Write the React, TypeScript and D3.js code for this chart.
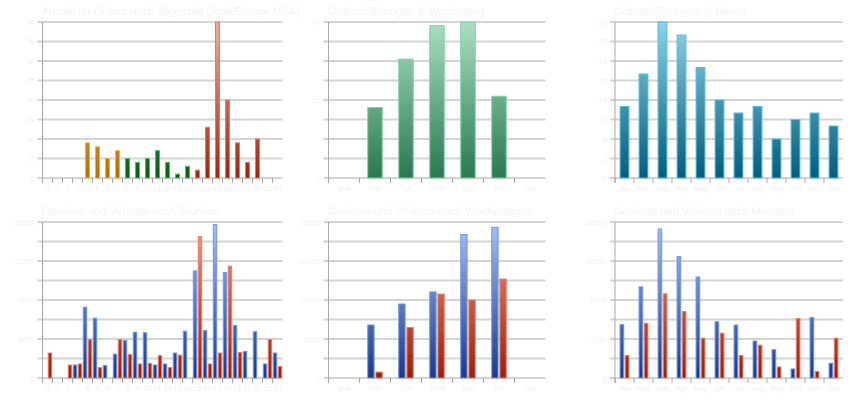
import React, { useEffect, useRef } from "react";
import * as d3 from "d3";

// Kategorien
const hours = ["0", "1", "2", "3", "4", "5", "6", "7", "8", "9", "10", "11", "12", "13", "14", "15", "16", "17", "18", "19", "20", "21", "22", "23"];
const weekdays = ["Sun", "Mon", "Tue", "Wed", "Thu", "Fri", "Sat"];
const months = ["Jan", "Feb", "Mar", "Apr", "May", "Jun", "Jul", "Aug", "Sep", "Oct", "Nov", "Dec"];

// Handelssitzung je Stunde
const hourRegion = [
  "asia", "asia", "asia", "asia", "asia", "asia", "asia", "asia",
  "europe", "europe", "europe", "europe", "europe", "europe", "europe",
  "usa", "usa", "usa", "usa", "usa", "usa", "usa", "usa", "usa",
];

// Orders
const ordersByHour = [0, 0, 0, 0, 9, 8, 5, 7, 5, 4, 5, 7, 4, 1, 3, 2, 13, 40, 20, 9, 4, 10, 0, 0];
const ordersByWeekday = [0, 19, 32, 41, 42, 22, 0];
const ordersByMonth = [11, 16, 24, 22, 17, 12, 10, 11, 6, 9, 10, 8];

// Gewinne / Verluste
const profitByHour = [0, 0, 0, 1250, 6800, 5750, 1200, 2300, 3600, 4400, 4350, 1250, 1350, 2400, 4500, 10300, 4550, 14750, 10150, 5050, 2550, 4450, 1350, 2400];
const lossByHour = [2400, 0, 1250, 1350, 3700, 1000, 0, 3700, 2250, 1350, 1400, 2150, 1000, 2200, 0, 13600, 1350, 2400, 10750, 2450, 0, 0, 3700, 1100];
const profitByWeekday = [0, 9850, 13750, 16000, 26650, 28000, 0];
const lossByWeekday = [0, 1100, 9400, 15600, 14500, 18400, 0];
const profitByMonth = [6500, 11100, 18150, 14800, 12300, 6850, 6450, 4500, 3450, 1100, 7350, 1800];
const lossByMonth = [2750, 6650, 10250, 8100, 4850, 5450, 2750, 4000, 1350, 7250, 800, 4850];

// Achsenbeschriftungen
const hourTicks = [0, 5, 10, 15, 20, 25, 30, 35, 40];
const weekdayTicks = [0, 21, 42];
const monthTicks = [0, 3, 6, 9, 12, 15, 18, 21, 24];
const profitHourTicks = [0, 3750, 7500, 11250, 15000];
const profitWeekdayTicks = [0, 7250, 14500, 21750, 29000];
const profitMonthTicks = [0, 4750, 9500, 14250, 19000];

const palette: Record<string, { top: string; bottom: string; stroke: string }> = {
  asia: { top: "#ffd67a", bottom: "#b86c06", stroke: "#f8b034" },
  europe: { top: "#5cc46c", bottom: "#0a5e12", stroke: "#52bc60" },
  usa: { top: "#f6ac9c", bottom: "#9c2610", stroke: "#ec7462" },
  mint: { top: "#aadfc2", bottom: "#2a7850", stroke: "#80d2a6" },
  teal: { top: "#8ed2e6", bottom: "#045c7c", stroke: "#52c0e0" },
  blue: { top: "#a9c1f2", bottom: "#1c3886", stroke: "#6e96e6" },
  red: { top: "#f29a88", bottom: "#96200e", stroke: "#ee7c68" },
};

interface Panel {
  id: string;
  title: string;
  categories: string[];
  series: { values: number[]; color: (i: number) => string }[];
  yMax: number;
  ticks: number[];
  rect: [number, number, number, number]; // x0, y0, x1, y1
  groupWidth: number;
}

const top = [22, 178];
const bottom = [222, 378];

const panels: Panel[] = [
  {
    id: "p1",
    title: "Anzahl an Orders nach Tageszeit (Asia,Europe,USA)",
    categories: hours,
    series: [{ values: ordersByHour, color: (i) => hourRegion[i] }],
    yMax: 40,
    ticks: hourTicks,
    rect: [42.5, top[0], 282.5, top[1]],
    groupWidth: 0.5,
  },
  {
    id: "p2",
    title: "Ordereröffnungen je Wochentag",
    categories: weekdays,
    series: [{ values: ordersByWeekday, color: () => "mint" }],
    yMax: 42,
    ticks: weekdayTicks,
    rect: [328.5, top[0], 545.5, top[1]],
    groupWidth: 0.5,
  },
  {
    id: "p3",
    title: "Ordereröffnungen je Monat",
    categories: months,
    series: [{ values: ordersByMonth, color: () => "teal" }],
    yMax: 24,
    ticks: monthTicks,
    rect: [615, top[0], 843, top[1]],
    groupWidth: 0.52,
  },
  {
    id: "p4",
    title: "Gewinne und Verluste nach Stunden",
    categories: hours,
    series: [
      { values: profitByHour, color: () => "blue" },
      { values: lossByHour, color: () => "red" },
    ],
    yMax: 15000,
    ticks: profitHourTicks,
    rect: [42.5, bottom[0], 282.5, bottom[1]],
    groupWidth: 0.94,
  },
  {
    id: "p5",
    title: "Gewinne und Verluste nach Wochentagen",
    categories: weekdays,
    series: [
      { values: profitByWeekday, color: () => "blue" },
      { values: lossByWeekday, color: () => "red" },
    ],
    yMax: 29000,
    ticks: profitWeekdayTicks,
    rect: [328.5, bottom[0], 545.5, bottom[1]],
    groupWidth: 0.5,
  },
  {
    id: "p6",
    title: "Gewinne und Verluste nach Monaten",
    categories: months,
    series: [
      { values: profitByMonth, color: () => "blue" },
      { values: lossByMonth, color: () => "red" },
    ],
    yMax: 19000,
    ticks: profitMonthTicks,
    rect: [615, bottom[0], 843, bottom[1]],
    groupWidth: 0.52,
  },
];

const font = "'Liberation Sans', Arial, sans-serif";
const textColor = "#f1f1f1";

export default function App() {
  const svgRef = useRef<SVGSVGElement>(null);

  useEffect(() => {
    if (!svgRef.current) return;
    const svg = d3.select(svgRef.current);
    svg.selectAll("*").remove();
    const defs = svg.append("defs");

    panels.forEach((p) => {
      const [x0, y0, x1, y1] = p.rect;
      const g = svg.append("g");

      const x = d3.scaleBand<string>().domain(p.categories).range([x0, x1]);
      const y = d3.scaleLinear().domain([0, p.yMax]).range([y1, y0]);
      const inner = d3
        .scaleBand<number>()
        .domain(d3.range(p.series.length))
        .range([0, x.bandwidth() * p.groupWidth])
        .paddingInner(p.series.length > 1 ? 0.1 : 0);
      const offset = (x.bandwidth() * (1 - p.groupWidth)) / 2;

      // gradients in plot coordinates, so short bars stay dark
      Object.keys(palette).forEach((key) => {
        const grad = defs
          .append("linearGradient")
          .attr("id", `${p.id}-${key}`)
          .attr("gradientUnits", "userSpaceOnUse")
          .attr("x1", 0)
          .attr("x2", 0)
          .attr("y1", y0)
          .attr("y2", y1);
        grad.append("stop").attr("offset", "0%").attr("stop-color", palette[key].top);
        grad.append("stop").attr("offset", "100%").attr("stop-color", palette[key].bottom);
      });

      // grid: 8 intervals, alternating dark thin / light thick
      const grid = d3.range(9).map((i) => (p.yMax * i) / 8);
      g.selectAll(".grid")
        .data(grid)
        .enter()
        .append("line")
        .attr("x1", x0 - 5)
        .attr("x2", x1)
        .attr("y1", (d) => y(d))
        .attr("y2", (d) => y(d))
        .attr("stroke", (d, i) => (i % 2 === 0 ? "#a8a8a8" : "#d4d4d4"))
        .attr("stroke-width", (d, i) => (i % 2 === 0 ? 1 : 2));

      // y axis + category ticks
      g.append("line")
        .attr("x1", x0)
        .attr("x2", x0)
        .attr("y1", y0)
        .attr("y2", y1 + 5)
        .attr("stroke", "#a8a8a8");
      g.selectAll(".xtick")
        .data(p.categories)
        .enter()
        .append("line")
        .attr("x1", (d) => x(d)!)
        .attr("x2", (d) => x(d)!)
        .attr("y1", y1)
        .attr("y2", y1 + 5)
        .attr("stroke", "#a8a8a8");

      // bars
      p.series.forEach((s, si) => {
        g.selectAll(`.bar-${si}`)
          .data(s.values.map((v, i) => ({ v, i })).filter((d) => d.v > 0))
          .enter()
          .append("rect")
          .attr("x", (d) => x(p.categories[d.i])! + offset + inner(si)! + 0.5)
          .attr("y", (d) => y(d.v))
          .attr("width", Math.max(inner.bandwidth() - 1, 1))
          .attr("height", (d) => y1 - y(d.v))
          .attr("fill", (d) => `url(#${p.id}-${s.color(d.i)})`)
          .attr("stroke", (d) => palette[s.color(d.i)].stroke)
          .attr("stroke-width", 1);
      });

      // labels
      g.selectAll(".ylabel")
        .data(p.ticks)
        .enter()
        .append("text")
        .attr("x", x0 - 8)
        .attr("y", (d) => y(d))
        .attr("dy", "0.35em")
        .attr("text-anchor", "end")
        .attr("font-size", "7.5px")
        .attr("font-family", font)
        .attr("fill", textColor)
        .text((d) => String(d));

      g.selectAll(".xlabel")
        .data(p.categories)
        .enter()
        .append("text")
        .attr("x", (d) => x(d)! + x.bandwidth() / 2)
        .attr("y", y1 + 13)
        .attr("text-anchor", "middle")
        .attr("font-size", "7.5px")
        .attr("font-family", font)
        .attr("fill", textColor)
        .text((d) => d);

      g.append("text")
        .attr("x", x0 - 1)
        .attr("y", y0 - 7)
        .attr("font-size", "11px")
        .attr("font-family", font)
        .attr("fill", "#f3f3f3")
        .text(p.title);
    });
  }, []);

  return (
    <svg
      ref={svgRef}
      width={860}
      height={400}
      style={{ position: "absolute", left: 0, top: 0, background: "#ffffff" }}
    />
  );
}
